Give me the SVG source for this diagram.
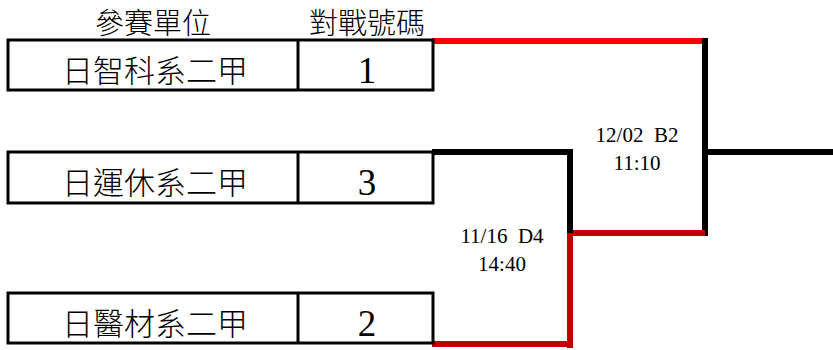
<svg xmlns="http://www.w3.org/2000/svg" width="833" height="350" viewBox="0 0 833 350">
<style>
.box{fill:none;stroke:#000;stroke-width:3}
.div{stroke:#000;stroke-width:3}
.cjk{font-family:"Noto Sans CJK TC","Noto Sans CJK SC",sans-serif;font-size:29px;font-weight:300;fill:#000;text-anchor:middle}
.row{font-size:31px}
.num{font-family:"Liberation Serif",serif;font-size:37px;fill:#000;text-anchor:middle}
.lbl{font-family:"Liberation Serif",serif;font-size:21px;fill:#000;text-anchor:middle;white-space:pre}
.blk{fill:none;stroke:#000;stroke-width:6}
.red{fill:none;stroke:#FF0000;stroke-width:6}
.dred{fill:none;stroke:#C00000;stroke-width:6}
</style>
<rect width="833" height="350" fill="#fff"/>
<g id="header">
<text class="cjk" x="153" y="34">參賽單位</text>
<text class="cjk" x="367" y="34">對戰號碼</text>
</g>
<g id="connectors">
<path class="red" d="M432,41 H705"/>
<path class="blk" d="M705,38 V236"/>
<path class="blk" d="M705,152 H833"/>
<path class="dred" d="M570,233 H705"/>
<path class="blk" d="M432,152 H570 V236"/>
<path class="dred" d="M570,233 V348"/>
<path class="dred" d="M432,344 H573"/>
</g>
<g id="row1">
<rect class="box" x="8" y="40" width="425" height="50"/>
<line class="div" x1="298" y1="40" x2="298" y2="90"/>
<text class="cjk row" x="155" y="82">日智科系二甲</text>
<text class="num" x="367" y="83">1</text>
</g>
<g id="row2">
<rect class="box" x="8" y="152" width="425" height="51"/>
<line class="div" x1="298" y1="152" x2="298" y2="203"/>
<text class="cjk row" x="155" y="194">日運休系二甲</text>
<text class="num" x="367" y="195">3</text>
</g>
<g id="row3">
<rect class="box" x="8" y="293" width="425" height="50"/>
<line class="div" x1="298" y1="293" x2="298" y2="343"/>
<text class="cjk row" x="155" y="335">日醫材系二甲</text>
<text class="num" x="367" y="336">2</text>
</g>
<g id="match-b2">
<text class="lbl" x="637" y="142" xml:space="preserve">12/02  B2</text>
<text class="lbl" x="637" y="170">11:10</text>
</g>
<g id="match-d4">
<text class="lbl" x="502" y="243" xml:space="preserve">11/16  D4</text>
<text class="lbl" x="502" y="271">14:40</text>
</g>
</svg>
